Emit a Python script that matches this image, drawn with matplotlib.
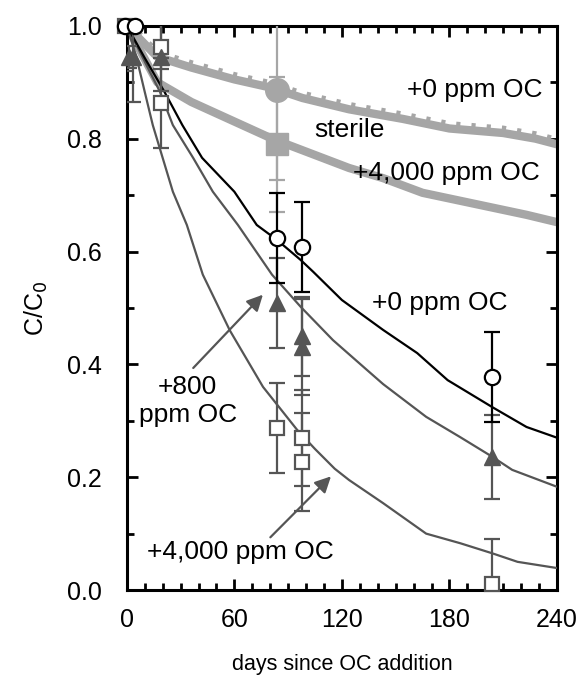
import matplotlib
matplotlib.use('Agg')
import matplotlib.pyplot as plt
from matplotlib.ticker import MultipleLocator, FormatStrFormatter
import numpy as np

plt.rcParams['font.family'] = ['Liberation Sans', 'DejaVu Sans']
plt.rcParams['font.size'] = 18

# model curves
t_oc0 = [0, 10, 21, 31, 42, 60, 72.5, 84, 97, 104, 120, 143, 162, 179, 204, 223, 240]
c_oc0 = [1.0, 0.943, 0.883, 0.824, 0.766, 0.706, 0.647, 0.62, 0.585, 0.564, 0.514,
         0.461, 0.42, 0.372, 0.324, 0.289, 0.27]
t_oc800 = [0, 9, 18.5, 25.7, 37, 48, 62, 81, 97, 115, 134, 143, 167, 186, 204, 215, 240]
c_oc800 = [1.0, 0.943, 0.883, 0.824, 0.766, 0.706, 0.647, 0.559, 0.502, 0.443, 0.39,
           0.365, 0.307, 0.271, 0.236, 0.213, 0.183]
t_oc4000 = [0, 5.5, 10, 14.5, 20, 25.7, 33.5, 42.4, 57.5, 76, 95, 105, 116, 124, 143,
            167, 186, 204, 218, 240]
c_oc4000 = [1.0, 0.943, 0.883, 0.824, 0.766, 0.706, 0.647, 0.559, 0.46, 0.36, 0.284,
            0.25, 0.215, 0.195, 0.154, 0.10, 0.083, 0.065, 0.05, 0.039]

# sterile controls (thick gray)
t_ster0 = [0, 17, 36, 60, 81, 98, 124, 154, 180, 210, 228, 240]
c_ster0 = [1.0, 0.945, 0.926, 0.905, 0.89, 0.872, 0.852, 0.835, 0.818, 0.81, 0.80, 0.79]
t_ster4000 = [0, 17, 36, 81, 124, 143, 165, 223, 240]
c_ster4000 = [1.0, 0.90, 0.865, 0.80, 0.748, 0.73, 0.704, 0.665, 0.652]

# measured data
d_circ = [-1, 4.5, 84, 98, 204]
v_circ = [1.0, 1.0, 0.624, 0.608, 0.378]
e_circ = [0.0, 0.0, 0.08, 0.08, 0.08]

d_tri = [1, 3.5, 19, 84, 98, 98, 204]
v_tri = [0.945, 0.945, 0.945, 0.509, 0.45, 0.43, 0.236]
e_tri = [0.02, 0.08, 0.06, 0.08, 0.07, 0.085, 0.075]

d_sq = [-1, 19, 19, 84, 98, 98, 204]
v_sq = [1.0, 0.963, 0.863, 0.287, 0.27, 0.227, 0.01]
e_sq = [0.08, 0.04, 0.08, 0.08, 0.085, 0.087, 0.08]

d_ster = [84]
v_ster_circ = [0.887]
e_ster_circ = [0.16]
v_ster_sq = [0.79]
e_ster_sq = [0.12]

BLACK = '#000000'
DARK = '#555555'
LIGHT = '#a6a6a6'

fig = plt.figure(figsize=(5.79, 6.79), dpi=100)
ax = fig.add_axes([0.219, 0.131, 0.743, 0.831])

# sterile bands
ax.plot(t_ster0, c_ster0, '-', color=LIGHT, lw=6, solid_capstyle='butt', zorder=2)
ax.plot(t_ster0, np.array(c_ster0) + 0.007, color=LIGHT, lw=5,
        linestyle=(0, (0.6, 1.6)), zorder=2)
ax.plot(t_ster4000, c_ster4000, '-', color=LIGHT, lw=6, solid_capstyle='butt', zorder=2)

# model curves
ax.plot(t_oc4000, c_oc4000, '-', color=DARK, lw=1.6, zorder=3)
ax.plot(t_oc800, c_oc800, '-', color=DARK, lw=1.6, zorder=3)
ax.plot(t_oc0, c_oc0, '-', color=BLACK, lw=1.6, zorder=3)

eb = dict(capsize=6, elinewidth=1.6, capthick=1.6, linestyle='none')
conts = []
conts.append(ax.errorbar(d_ster, v_ster_circ, yerr=e_ster_circ, fmt='o', ms=17,
                         color=LIGHT, ecolor=LIGHT, zorder=4, **eb))
conts.append(ax.errorbar(d_ster, v_ster_sq, yerr=e_ster_sq, fmt='s', ms=16,
                         color=LIGHT, ecolor=LIGHT, zorder=4, **eb))
conts.append(ax.errorbar(d_sq, v_sq, yerr=e_sq, fmt='s', ms=10, mfc='white', mec=DARK,
                         mew=1.6, ecolor=DARK, zorder=5, **eb))
conts.append(ax.errorbar(d_tri, v_tri, yerr=e_tri, fmt='^', ms=11, color=DARK,
                         ecolor=DARK, zorder=5, **eb))
conts.append(ax.errorbar(d_circ, v_circ, yerr=e_circ, fmt='o', ms=11, mfc='white',
                         mec=BLACK, mew=1.6, ecolor=BLACK, zorder=6, **eb))
# markers sit over the frame, error bars stay clipped
for c in conts:
    c[0].set_clip_on(False)

# labels on the plot
ax.text(232, 0.887, '+0 ppm OC', ha='right', va='center', fontsize=19)
ax.text(124.5, 0.816, 'sterile', ha='center', va='center', fontsize=19)
ax.text(126, 0.739, '+4,000 ppm OC', ha='left', va='center', fontsize=19)
ax.text(137, 0.509, '+0 ppm OC', ha='left', va='center', fontsize=19)
ax.text(34, 0.335, '+800\nppm OC', ha='center', va='center', linespacing=1.2,
        fontsize=19)
ax.text(63.5, 0.067, '+4,000 ppm OC', ha='center', va='center', fontsize=19)
ax.annotate('', xy=(77, 0.527), xytext=(36, 0.39),
            arrowprops=dict(arrowstyle='-|>', color=DARK, lw=1.6, mutation_scale=24))
ax.annotate('', xy=(115, 0.205), xytext=(79, 0.09),
            arrowprops=dict(arrowstyle='-|>', color=DARK, lw=1.6, mutation_scale=24))

ax.set_xlim(0, 240)
ax.set_ylim(0, 1.0)
ax.xaxis.set_major_locator(MultipleLocator(60))
ax.xaxis.set_minor_locator(MultipleLocator(10))
ax.yaxis.set_major_locator(MultipleLocator(0.2))
ax.yaxis.set_minor_locator(MultipleLocator(0.1))
ax.yaxis.set_major_formatter(FormatStrFormatter('%.1f'))
ax.tick_params(which='both', direction='in', top=True, right=True, width=2)
ax.tick_params(which='major', length=8, labelsize=18)
ax.tick_params(axis='x', which='major', pad=13)
ax.tick_params(axis='y', which='major', pad=18)
ax.tick_params(which='minor', length=5)
for s in ax.spines.values():
    s.set_linewidth(2.2)

ax.set_xlabel('days since OC addition', fontsize=15.5, labelpad=16)
ax.set_ylabel('C/C$_0$', fontsize=18, labelpad=12)

fig.savefig('out.png', dpi=100)
